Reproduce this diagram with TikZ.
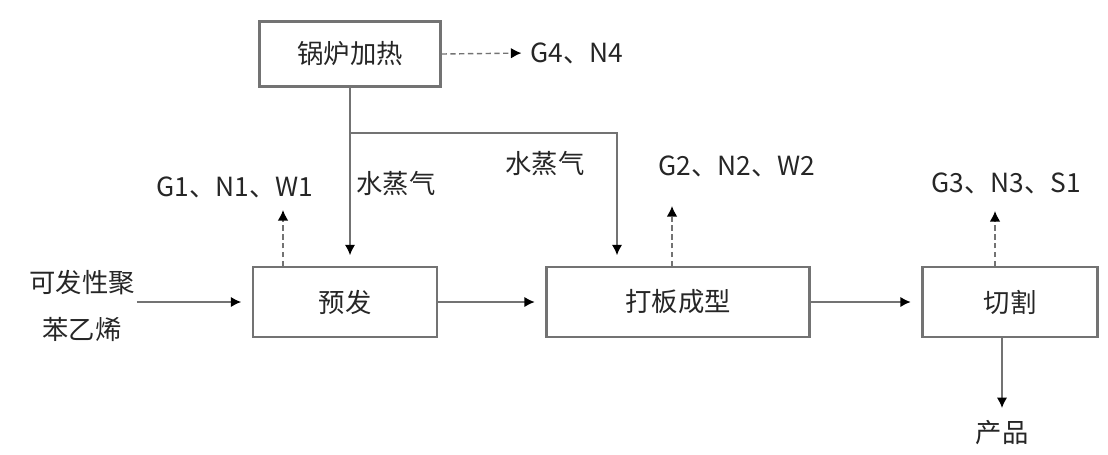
\documentclass[tikz,border=0pt]{standalone}
\usepackage{fontspec}
\setmainfont{Liberation Serif}
\newfontfamily\cjk{Noto Sans CJK SC}
\usetikzlibrary{arrows.meta,positioning}
\definecolor{LineClr}{rgb}{0.45,0.45,0.45}

\begin{document}
\begin{tikzpicture}[x=0.02cm,y=-0.02cm,
  font=\cjk\fontsize{15}{17}\selectfont,text=black!85,
  procbox/.style={draw=LineClr,line width=1.3pt,minimum height=1.4cm,inner sep=0pt},
  lbl/.style={inner sep=1pt},
  flow/.style={draw=LineClr,line width=1.3pt,-{Latex[length=6pt,width=6pt,black]},shorten >=6pt},
  emit/.style={draw=LineClr,line width=0.8pt,densely dashed,-{Latex[length=6pt,width=6pt,black]}}]
\useasboundingbox (0,0) rectangle (1108,454);

% process boxes
\node[procbox,minimum width=3.62cm,minimum height=1.3cm] (boiler) at (350,54) {锅炉加热};
\node[procbox,minimum width=3.68cm] (yufa) at (345,302) {预发};
\node[procbox,minimum width=5.26cm] (daban) at (678,302) {打板成型};
\node[procbox,minimum width=3.5cm] (qiege) at (1010,302) {切割};

% texts
\node[lbl,align=center,font=\cjk\fontsize{15}{27}\selectfont] (feed) at (82,306) {可发性聚\\苯乙烯};
\node[lbl] (g4) at (577,53) {G4、N4};
\node[lbl] (g1) at (235,187) {G1、N1、W1};
\node[lbl] (g2) at (737,166) {G2、N2、W2};
\node[lbl] (g3) at (1006,183) {G3、N3、S1};
\node[lbl] (steamA) at (396,184) {水蒸气};
\node[lbl] (steamB) at (545,164) {水蒸气};
\node[lbl] (product) at (1002,433) {产品};

\coordinate (split) at (350,133);
\coordinate (turn) at (617,133);
\coordinate (g1Tip) at (283,210);
\coordinate (g2Tip) at (672,206);
\coordinate (g3Tip) at (995,211);

% main flow
\draw[flow] (feed.east |- yufa.west) -- (yufa.west);
\draw[flow] (yufa.east) -- (daban.west);
\draw[flow] (daban.east) -- (qiege.west);
\draw[flow] (qiege.south -| product) -- (product.north);

% steam
\draw[flow] (boiler.south) -- (boiler.south |- yufa.north);
\draw[flow] (split) -- (turn) -- (turn |- daban.north);

% emissions
\draw[emit,shorten >=4pt] (boiler.east) -- (g4.west);
\draw[emit] (g1Tip |- yufa.north) -- (g1Tip);
\draw[emit] (g2Tip |- daban.north) -- (g2Tip);
\draw[emit] (g3Tip |- qiege.north) -- (g3Tip);

\end{tikzpicture}
\end{document}
